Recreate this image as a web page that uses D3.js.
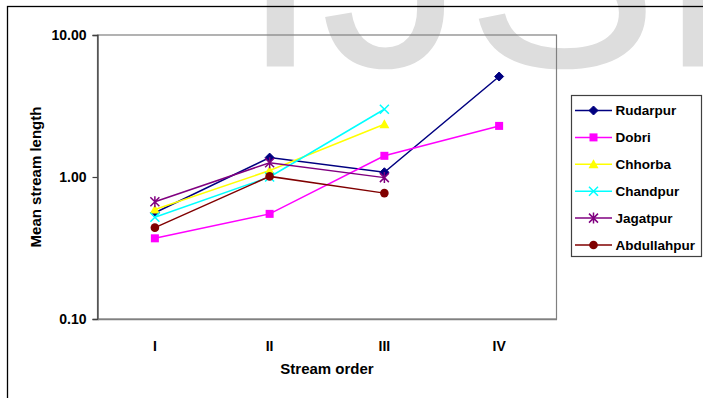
<!DOCTYPE html>
<html>
<head>
<meta charset="utf-8">
<script src="https://cdn.jsdelivr.net/npm/d3@7"></script>
<style>
  html, body { margin: 0; padding: 0; background: #fff; }
  svg { display: block; font-family: "Liberation Sans", Arial, sans-serif; }
</style>
</head>
<body>
<svg id="chart" width="703" height="398"></svg>
<script>
// Stream orders along the horizontal axis
const orders = ["I", "II", "III", "IV"];
// Y-axis tick values (log scale)
const yTicks = [0.1, 1, 10];

// Mean stream length per stream order for each basin
const rudarpur    = [0.56, 1.37, 1.08, 5.1];
const dobri       = [0.37, 0.55, 1.41, 2.29];
const chhorba     = [0.59, 1.11, 2.35];
const chandpur    = [0.52, 1.0, 3.0];
const jagatpur    = [0.67, 1.26, 0.99];
const abdullahpur = [0.44, 1.01, 0.77];

const seriesNames  = ["Rudarpur", "Dobri", "Chhorba", "Chandpur", "Jagatpur", "Abdullahpur"];
const seriesValues = [rudarpur, dobri, chhorba, chandpur, jagatpur, abdullahpur];
const seriesColors = ["#000080", "#ff00ff", "#ffff00", "#00ffff", "#800080", "#800000"];
const seriesMarkers = ["diamond", "square", "triangle", "x", "star", "circle"];

const svg = d3.select("#chart");

// Faint masthead lettering behind the chart
svg.append("text")
  .attr("x", 240).attr("y", 66.5)
  .attr("font-size", 290)
  .attr("fill", "#dddddd")
  .text("IJSER");

// Chart area frame
svg.append("rect")
  .attr("x", 7.5).attr("y", 6.5)
  .attr("width", 720).attr("height", 420)
  .attr("fill", "none").attr("stroke", "#000").attr("stroke-width", 1.3);

const plot = { left: 97.5, top: 35, right: 556.5, bottom: 319 };

const x = d3.scaleBand().domain(orders).range([plot.left, plot.right]);
const cx = d => x(d) + x.bandwidth() / 2;
const y = d3.scaleLog().domain([0.1, 10]).range([plot.bottom, plot.top]);

// Plot area border
svg.append("rect")
  .attr("x", plot.left).attr("y", plot.top)
  .attr("width", plot.right - plot.left).attr("height", plot.bottom - plot.top)
  .attr("fill", "none").attr("stroke", "#808080").attr("stroke-width", 1.2);

// Y axis
const yAxis = svg.append("g")
  .attr("transform", `translate(${plot.left},0)`)
  .call(d3.axisLeft(y).tickValues(yTicks).tickFormat(d3.format(".2f")).tickSize(5).tickPadding(6));
yAxis.select(".domain").attr("stroke", "#404040").attr("stroke-width", 1.3);
yAxis.selectAll(".tick line").attr("stroke", "#404040").attr("stroke-width", 1.2);
yAxis.selectAll(".tick text")
  .attr("font-size", 14).attr("font-weight", "bold").attr("fill", "#000")
  .attr("font-family", "Liberation Sans, Arial, sans-serif");

// X axis
const xAxis = svg.append("g")
  .attr("transform", `translate(0,${plot.bottom})`)
  .call(d3.axisBottom(x).tickSize(0).tickPadding(22));
xAxis.select(".domain").attr("stroke", "#808080").attr("stroke-width", 1.3);
xAxis.selectAll(".tick text")
  .attr("font-size", 14).attr("font-weight", "bold").attr("fill", "#000")
  .attr("font-family", "Liberation Sans, Arial, sans-serif");

// Axis titles
svg.append("text")
  .attr("x", (plot.left + plot.right) / 2).attr("y", 374)
  .attr("text-anchor", "middle")
  .attr("font-size", 15).attr("font-weight", "bold")
  .text("Stream order");

svg.append("text")
  .attr("transform", `translate(40.5,${(plot.top + plot.bottom) / 2}) rotate(-90)`)
  .attr("text-anchor", "middle")
  .attr("font-size", 15).attr("font-weight", "bold")
  .text("Mean stream length");

// Marker drawing
function drawMarker(g, type, color, px, py) {
  const s = 4.5;
  if (type === "diamond") {
    g.append("path").attr("d", `M${px},${py - s}L${px + s},${py}L${px},${py + s}L${px - s},${py}Z`)
      .attr("fill", color).attr("stroke", color);
  } else if (type === "square") {
    g.append("rect").attr("x", px - 4).attr("y", py - 4).attr("width", 8).attr("height", 8)
      .attr("fill", color);
  } else if (type === "triangle") {
    g.append("path").attr("d", `M${px},${py - 5}L${px + 5},${py + 4}L${px - 5},${py + 4}Z`)
      .attr("fill", color);
  } else if (type === "x") {
    g.append("path").attr("d", `M${px - 4.5},${py - 4.5}L${px + 4.5},${py + 4.5}M${px - 4.5},${py + 4.5}L${px + 4.5},${py - 4.5}`)
      .attr("stroke", color).attr("stroke-width", 1.5).attr("fill", "none");
  } else if (type === "star") {
    g.append("path").attr("d", `M${px - 4.5},${py - 4.5}L${px + 4.5},${py + 4.5}M${px - 4.5},${py + 4.5}L${px + 4.5},${py - 4.5}M${px},${py - 5.5}L${px},${py + 5.5}`)
      .attr("stroke", color).attr("stroke-width", 1.5).attr("fill", "none");
  } else if (type === "circle") {
    g.append("circle").attr("cx", px).attr("cy", py).attr("r", 4.3).attr("fill", color);
  }
}

// Series lines and markers
const line = d3.line().x((d, i) => cx(orders[i])).y(d => y(d));
seriesValues.forEach((vals, k) => {
  const g = svg.append("g");
  g.append("path").datum(vals)
    .attr("d", line)
    .attr("fill", "none").attr("stroke", seriesColors[k]).attr("stroke-width", 1.5);
  vals.forEach((v, i) => drawMarker(g, seriesMarkers[k], seriesColors[k], cx(orders[i]), y(v)));
});

// Legend
const legend = svg.append("g");
legend.append("rect")
  .attr("x", 571.5).attr("y", 95.5).attr("width", 130).attr("height", 161)
  .attr("fill", "#fff").attr("stroke", "#404040").attr("stroke-width", 1.2);
seriesNames.forEach((name, k) => {
  const ly = 110.5 + k * 26.9;
  legend.append("line")
    .attr("x1", 575).attr("x2", 612).attr("y1", ly).attr("y2", ly)
    .attr("stroke", seriesColors[k]).attr("stroke-width", 1.5);
  drawMarker(legend, seriesMarkers[k], seriesColors[k], 593.5, ly);
  legend.append("text")
    .attr("x", 615.5).attr("y", ly).attr("dy", "0.36em")
    .attr("font-size", 13.5).attr("font-weight", "bold")
    .text(name);
});
</script>
</body>
</html>
